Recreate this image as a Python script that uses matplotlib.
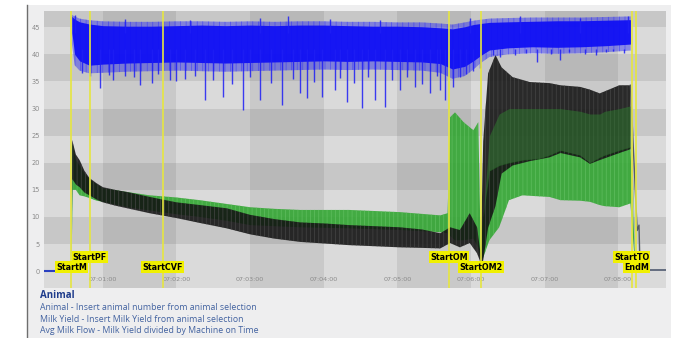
"""Milking session chart: conductivity (blue) and two flow channels (black/green) with event markers."""

import matplotlib
matplotlib.use("Agg")
import matplotlib.pyplot as plt
from matplotlib.patches import Rectangle
from matplotlib.lines import Line2D

plt.rcParams["hatch.linewidth"] = 0.5

# ---------------------------------------------------------------------------
# Data (time in seconds after 07:00:00)
# ---------------------------------------------------------------------------

# blue channel, dense band envelope (core) and outer fuzz
blue_t = [34.7, 37, 41, 49, 60, 80, 100, 120, 140, 160, 180, 200, 220, 240, 260,
          280, 300, 320, 335, 345, 355, 362, 368, 375, 390, 410, 430, 450, 470, 490]
blue_lo = [44.0, 40.0, 38.8, 38.0, 38.2, 38.4, 38.5, 38.6, 38.5, 38.4, 38.5, 38.6,
           38.7, 38.8, 38.7, 38.8, 38.7, 38.6, 38.3, 37.3, 37.8, 38.8, 39.8, 40.8,
           41.2, 41.4, 41.3, 41.4, 41.6, 41.9]
blue_hi = [47.0, 46.5, 46.0, 45.6, 45.3, 45.2, 45.2, 45.3, 45.4, 45.3, 45.4, 45.3,
           45.4, 45.4, 45.3, 45.2, 45.2, 45.1, 44.9, 44.7, 45.1, 45.5, 45.7, 45.9,
           46.0, 46.1, 46.2, 46.2, 46.3, 46.4]
blue_fuzz_lo = [42.0, 38.0, 37.0, 36.5, 36.6, 36.8, 36.9, 37.0, 36.9, 36.8, 36.9,
                37.0, 37.1, 37.2, 37.1, 37.2, 37.1, 37.0, 36.6, 35.5, 36.0, 37.2,
                38.4, 39.5, 40.0, 40.2, 40.1, 40.2, 40.4, 40.7]
blue_fuzz_hi = [47.3, 47.0, 46.6, 46.3, 46.1, 46.0, 46.0, 46.1, 46.1, 46.0, 46.1,
                46.0, 46.1, 46.1, 46.0, 46.0, 45.9, 45.9, 45.7, 45.5, 45.9, 46.2,
                46.4, 46.6, 46.7, 46.8, 46.8, 46.8, 46.9, 47.0]

# blue downward spikes
blue_dip_t = [42.9, 49.4, 57.6, 65, 68.2, 78, 85, 90.2, 100, 105, 114.6, 120, 127,
              135, 143, 150, 158, 165, 174, 180, 188, 197, 206, 215, 221, 226, 232,
              239, 249, 253, 259, 265, 271, 276, 282, 290, 296, 302, 308, 314, 320,
              327, 332, 335, 339, 345, 351, 356, 362, 367, 378, 384, 396, 405, 414,
              425, 433, 440, 453, 462, 470, 476, 485]
blue_dip_v = [36.5, 36.0, 33.8, 36.2, 35.2, 36.0, 35.8, 34.3, 34.7, 36.4, 35.2, 35.0,
              35.5, 36.0, 31.5, 35.3, 32.1, 34.6, 29.7, 35.8, 31.5, 34.8, 30.6, 35.5,
              32.8, 31.9, 34.9, 32.1, 33.4, 35.6, 31.2, 34.7, 30.1, 35.9, 31.5, 30.3,
              35.2, 33.4, 35.8, 34.0, 34.6, 32.8, 36.1, 33.4, 31.5, 34.0, 35.8, 36.4,
              37.0, 37.5, 39.8, 39.5, 39.8, 40.2, 38.6, 40.0, 39.0, 40.4, 40.0, 39.8,
              40.5, 40.7, 40.3]

# blue upward spikes
blue_peak_t = [37, 78, 131, 188, 211, 245, 286, 359, 400, 449, 488]
blue_peak_v = [47.2, 46.5, 46.3, 46.7, 47.0, 46.5, 46.3, 46.8, 47.0, 46.8, 47.0]

# blue at zero before start / after end
base_left_t = [12, 21.6]
base_left_v = [0, 0]
base_right_t = [498, 519]
base_right_v = [0.2, 0.2]

# black channel envelope
black_t = [34.5, 35.0, 38, 41, 45, 49, 55, 60, 70, 80, 98, 120, 139, 161, 180, 200,
           221, 241, 261, 282, 302, 320, 335, 343, 351, 359, 365, 368, 370, 374,
           380, 385, 394, 408, 424, 433, 449, 457, 465, 481, 490]
black_lo = [0, 17.0, 16.0, 15.5, 14.5, 14.0, 13.2, 12.7, 12.1, 11.6, 10.7, 9.8, 8.9,
            7.9, 6.8, 6.0, 5.4, 5.1, 4.8, 4.6, 4.4, 4.3, 4.2, 5.2, 4.4, 5.2, 3.3,
            1.5, 2.0, 8.0, 12.0, 18.0, 19.5, 20.3, 21.0, 21.8, 21.0, 19.8, 20.5,
            21.8, 22.5]
black_hi = [0, 24.2, 21.5, 20.5, 18.5, 17.2, 16.2, 15.5, 15.0, 14.6, 13.7, 12.7,
            12.2, 11.6, 10.4, 9.6, 9.0, 8.8, 8.5, 8.3, 8.1, 7.7, 7.0, 8.1, 7.6,
            10.7, 8.1, 3.0, 24.0, 36.5, 39.9, 37.6, 35.8, 34.9, 34.7, 34.3, 34.0,
            33.5, 32.8, 34.3, 34.3]

# black falling edge after the end of milking
tail_t = [490, 495.5, 497.0, 497.6, 498.0]
tail_v = [34.3, 7.5, 8.5, 2.5, 0.2]

# green channel envelope (core) and outer top
green_t = [34.5, 34.8, 35.3, 38, 41, 45, 49, 55, 60, 80, 98, 120, 139, 161, 180,
           200, 221, 261, 302, 335, 341, 343, 347, 354, 362, 366, 368, 370, 375,
           383, 391, 402, 416, 424, 433, 449, 457, 465, 469, 481, 490, 494]
green_lo = [0, 6.3, 15.0, 15.0, 14.0, 13.8, 13.5, 13.0, 12.8, 11.8, 11.2, 10.5, 10.0,
            9.3, 8.5, 8.3, 8.1, 7.9, 7.6, 7.2, 7.0, 6.5, 5.7, 5.7, 6.0, 4.4, 2.0,
            2.5, 5.7, 8.1, 13.1, 14.0, 13.8, 13.7, 13.1, 13.0, 12.8, 12.2, 12.0,
            11.8, 12.5, 0.5]
green_hi = [0, 23.0, 23.5, 20.5, 19.5, 18.0, 17.0, 16.0, 15.3, 14.6, 14.0, 13.6,
            13.1, 12.4, 11.8, 11.5, 11.3, 11.3, 10.9, 10.3, 10.7, 28.4, 29.3, 27.5,
            26.0, 27.5, 4.0, 10.0, 18.5, 19.5, 20.0, 20.5, 20.8, 21.4, 22.3, 21.4,
            20.0, 21.0, 21.4, 22.3, 22.9, 1.0]
green_top = [0, 23.0, 23.5, 20.5, 19.5, 18.0, 17.0, 16.0, 15.3, 14.6, 14.0, 13.6,
             13.1, 12.4, 11.8, 11.5, 11.3, 11.3, 10.9, 10.3, 10.7, 28.4, 29.3, 27.5,
             26.0, 27.5, 4.0, 10.0, 25.0, 29.0, 30.0, 30.0, 30.0, 30.0, 30.0, 29.5,
             29.0, 29.0, 29.5, 30.0, 30.5, 1.0]

# event markers
event_names = ["StartM", "StartPF", "StartCVF", "StartOM", "StartOM2", "StartTO", "EndM"]
event_times = [34.3, 49.4, 108.9, 342.0, 368.0, 491.0, 494.9]
event_levels = [0.75, 2.6, 0.75, 2.6, 0.75, 2.6, 0.75]

# axes ticks
x_ticks = [60, 120, 180, 240, 300, 360, 420, 480]
x_labels = ["07:01:00", "07:02:00", "07:03:00", "07:04:00",
            "07:05:00", "07:06:00", "07:07:00", "07:08:00"]
y_ticks = [0, 5, 10, 15, 20, 25, 30, 35, 40, 45]

legend_title = "Animal"
legend_lines = [
    "Animal - Insert animal number from animal selection",
    "Milk Yield - Insert Milk Yield from animal selection",
    "Avg Milk Flow - Milk Yield divided by Machine on Time",
]

# ---------------------------------------------------------------------------
# Figure
# ---------------------------------------------------------------------------

W, H = 679, 338
fig = plt.figure(figsize=(W / 100, H / 100), dpi=100)
fig.patch.set_facecolor("white")

# light container panel + left border line (kept behind the axes)
fig.patches.append(Rectangle((27 / W, 0), (671 - 27) / W, (H - 5) / H,
                             transform=fig.transFigure, facecolor="#eeeeef",
                             edgecolor="none", zorder=-10))
fig.lines.append(Line2D([26.5 / W] * 2, [0, 1 - 5 / H], transform=fig.transFigure,
                        color="#6e6e6e", lw=1.0, zorder=-5))

ax = fig.add_axes([44 / W, 1 - 288 / H, 622 / W, 277 / H])
ax.set_facecolor("#dadada")
ax.set_xlim(12, 519)
ax.set_ylim(-3.1, 48)

# checkerboard banding
for y0 in range(5, 50, 10):
    ax.axhspan(y0, y0 + 5, color="black", alpha=0.085, lw=0, zorder=0)
for x0 in range(60, 519, 120):
    ax.axvspan(x0, x0 + 60, color="black", alpha=0.075, lw=0, zorder=0)

# blue channel: soft fuzz, dense core, spikes
ax.fill_between(blue_t, blue_fuzz_lo, blue_fuzz_hi, facecolor="#3a3af0",
                edgecolor="#1a1aff", hatch="|||", lw=0, alpha=0.5, zorder=3)
ax.fill_between(blue_t, blue_lo, blue_hi, color="#1010f4", lw=0, alpha=0.95, zorder=3)
ax.vlines(blue_dip_t, blue_dip_v, 41, color="#1e1ef5", lw=1.0, alpha=0.85, zorder=3)
ax.vlines(blue_peak_t, 44, blue_peak_v, color="#1e1ef5", lw=1.0, alpha=0.85, zorder=3)
ax.plot(base_left_t, base_left_v, color="#2a40c0", lw=1.5, zorder=3)
ax.plot(base_right_t, base_right_v, color="#4f5a70", lw=1.2, zorder=3)

# green core, black, green outer
ax.fill_between(green_t, green_lo, green_hi, facecolor="#33a633", edgecolor="#62c062",
                hatch="||||", lw=0, alpha=0.9, zorder=2)
ax.fill_between(black_t, black_lo, black_hi, facecolor="#121212", edgecolor="#4a4a4a",
                hatch="||||", lw=0, alpha=0.88, zorder=2)
ax.fill_between(green_t, green_hi, green_top, color="#2f8a2f", lw=0, alpha=0.45, zorder=2)
ax.plot(tail_t, tail_v, color="#555b66", lw=1.0, zorder=2)

# event markers
for name, t, lvl in zip(event_names, event_times, event_levels):
    ax.axvline(t, color="#e6e640", lw=1.2, zorder=4)
    ax.text(t, lvl, name, ha="center", va="center", fontsize=5.8, fontweight="bold",
            color="black", zorder=5,
            bbox=dict(boxstyle="square,pad=0.15", fc="#f0f000", ec="none"))

ax.set_xticks(x_ticks)
ax.set_xticklabels(x_labels)
ax.set_yticks(y_ticks)
ax.tick_params(axis="x", length=0, pad=-8, labelsize=4.6, labelcolor="#8a8a8a")
ax.tick_params(axis="y", length=0, pad=3, labelsize=4.8, labelcolor="#8a8a8a")
for s in ax.spines.values():
    s.set_visible(False)

# description below the chart
fig.text(40 / W, 1 - 296 / H, legend_title, fontsize=7, fontweight="bold",
         color="#1f3c8c", va="center", family="Open Sans")
for i, line in enumerate(legend_lines):
    fig.text(40 / W, 1 - (307.5 + i * 11.7) / H, line, fontsize=6.3, color="#4262a0",
             va="center", family="Open Sans")

fig.savefig("out.png", dpi=100)
